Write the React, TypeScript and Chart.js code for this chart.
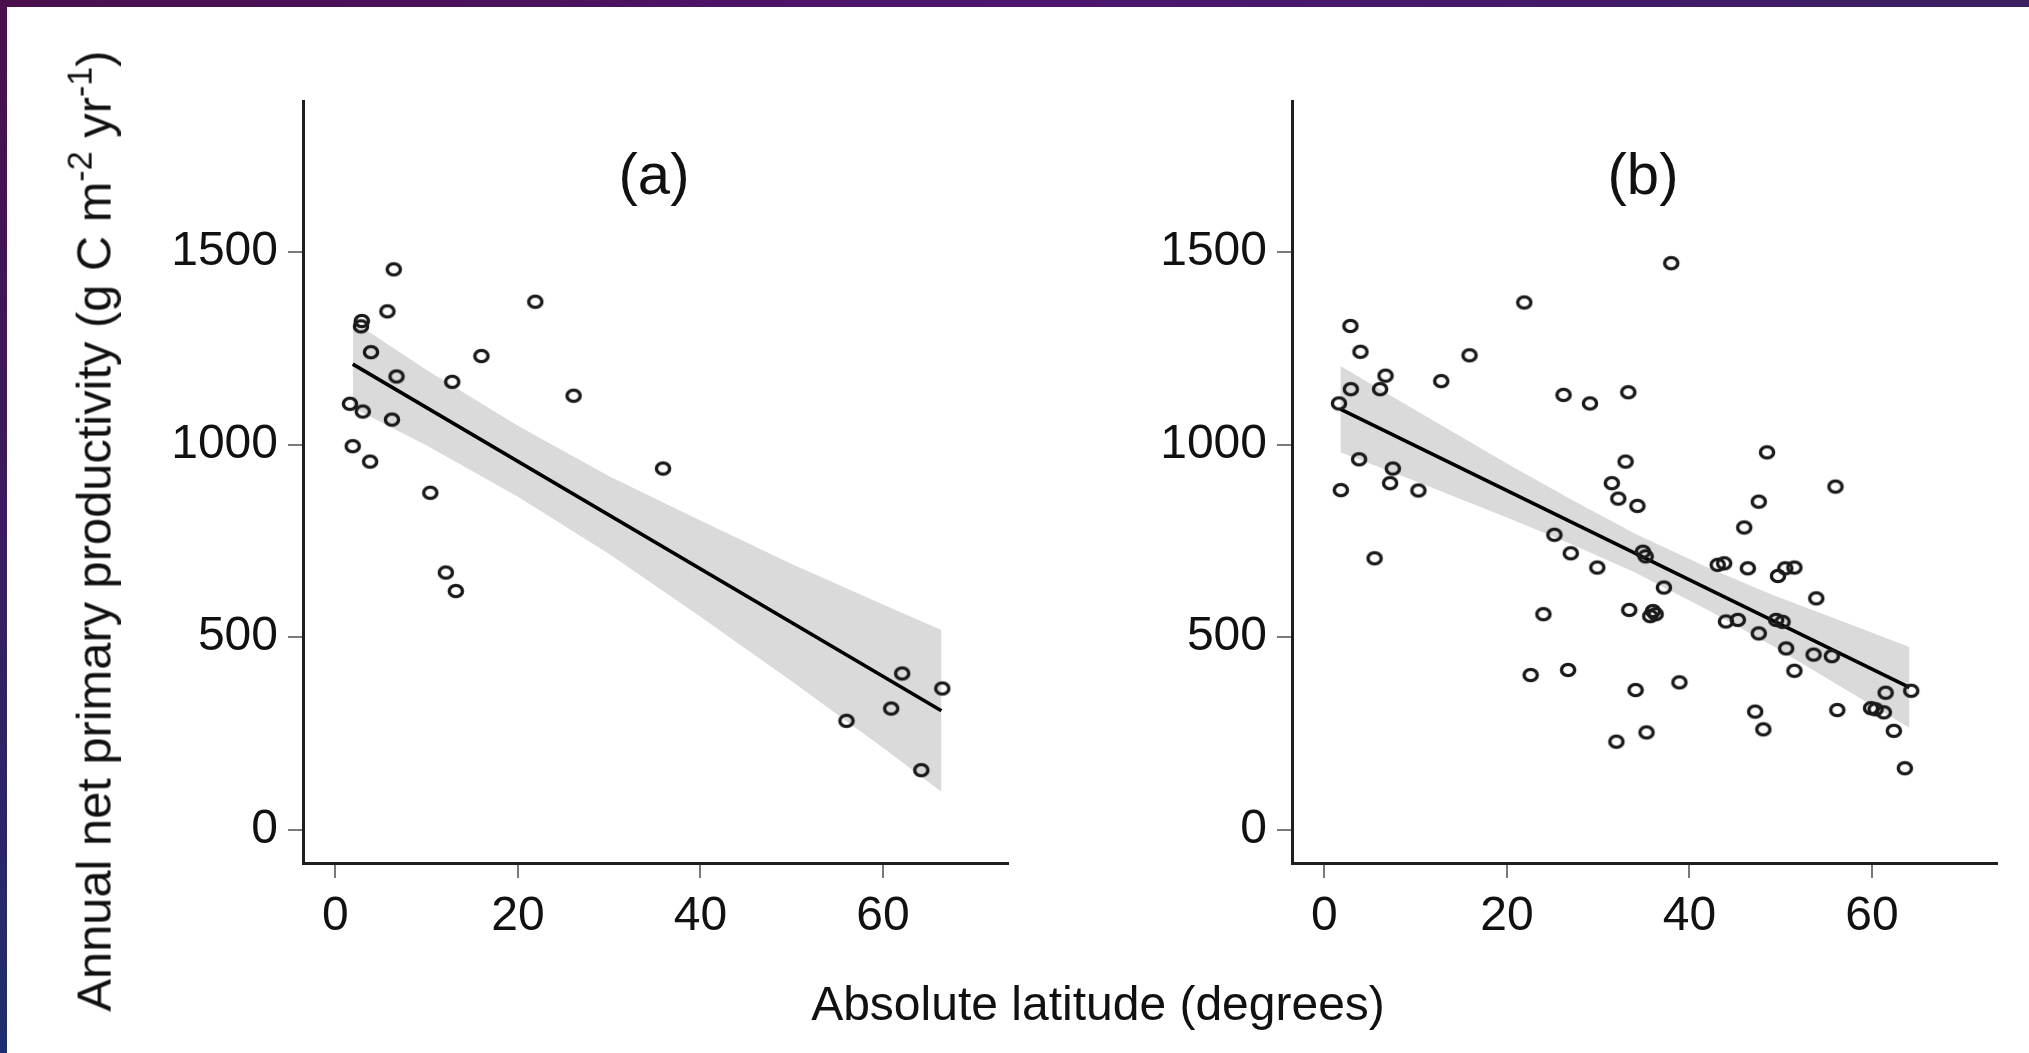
import React, { useEffect, useRef } from 'react';
import { Chart, registerables } from 'chart.js';

Chart.register(...registerables);

// ---------- tick values / labels ----------
const xTickValues = [0, 20, 40, 60];
const xTickLabels = ['0', '20', '40', '60'];
const yTickValues = [0, 500, 1000, 1500];
const yTickLabels = ['0', '500', '1000', '1500'];

// ---------- panel (a) ----------
const latA = [1.6, 1.9, 3.0, 2.9, 2.8, 3.8, 3.9, 5.7, 6.4, 6.7, 6.2, 10.4, 12.1, 12.8, 13.2, 16.0, 21.9, 26.1, 35.9, 56.0, 60.9, 62.1, 64.2, 66.5];
const nppA = [1106, 996, 1086, 1321, 1307, 956, 1240, 1346, 1455, 1177, 1065, 875, 668, 1163, 620, 1230, 1371, 1127, 938, 283, 315, 406, 155, 367];
const fitXA = [1.9, 66.4];
const fitYA = [1209, 309];
const bandXA = [1.9, 10, 20, 30, 40, 50, 60, 66.4];
const bandUpperA = [1320, 1194, 1049, 918, 803, 690, 585, 519];
const bandLowerA = [1096, 998, 865, 716, 553, 386, 213, 99];

// ---------- panel (b) ----------
const latB = [1.6, 1.8, 2.85, 2.9, 3.8, 3.95, 5.5, 6.1, 6.7, 7.2, 7.5, 10.3, 12.8, 15.9, 21.9, 22.6, 24.0, 25.2, 26.2, 26.7, 27.0, 29.1, 29.9, 31.5, 32.0, 32.2, 33.0, 33.3, 33.4, 34.1, 34.3, 34.9, 35.2, 35.3, 35.7, 36.0, 36.3, 37.2, 38.0, 38.9, 43.1, 43.8, 44.0, 45.3, 46.0, 46.4, 47.2, 47.6, 47.6, 48.1, 48.5, 49.5, 50.2, 49.7, 50.5, 51.5, 50.6, 51.5, 53.6, 53.9, 55.6, 56.0, 56.2, 59.9, 60.4, 61.3, 61.5, 62.4, 63.6, 64.3];
const nppB = [1107, 882, 1308, 1144, 962, 1241, 705, 1144, 1179, 900, 938, 881, 1165, 1232, 1369, 402, 560, 766, 1129, 415, 718, 1107, 681, 900, 229, 860, 956, 1136, 571, 363, 841, 722, 710, 253, 555, 568, 560, 629, 1471, 383, 688, 692, 541, 545, 785, 679, 307, 510, 852, 261, 980, 545, 540, 659, 679, 681, 471, 413, 455, 601, 451, 891, 311, 316, 313, 305, 356, 257, 160, 361];
const fitXB = [1.75, 64.1];
const fitYB = [1092, 370];
const bandXB = [1.75, 10, 20, 27, 34, 42, 49, 56, 64.1];
const bandUpperB = [1204, 1089, 951, 858, 769, 681, 611, 548, 475];
const bandLowerB = [980, 905, 811, 742, 669, 571, 479, 380, 265];

const X_MIN = -3.55;
const X_MAX = 73.7;
const Y_MIN = -86;
const Y_MAX = 1892;

const W = 2029;
const H = 1053;
const FONT = "'Liberation Sans', Arial, Helvetica, sans-serif";

const pts = (xs: number[], ys: number[]) => xs.map((x, i) => ({ x, y: ys[i] }));

// open ellipse marker (the scanned circles are slightly wider than tall)
function makeMarker(): HTMLCanvasElement {
  const c = document.createElement('canvas');
  c.width = 22;
  c.height = 20;
  const ctx = c.getContext('2d')!;
  ctx.strokeStyle = '#1a1a1a';
  ctx.lineWidth = 3.4;
  ctx.beginPath();
  ctx.ellipse(11, 10, 6.6, 5.6, 0, 0, Math.PI * 2);
  ctx.stroke();
  return c;
}

function makeChart(
  canvas: HTMLCanvasElement,
  marker: HTMLCanvasElement,
  lat: number[], npp: number[],
  fitX: number[], fitY: number[],
  bandX: number[], bandU: number[], bandL: number[],
  areaLeft: number, areaRight: number
) {
  const yW = 200;
  const tickFont = { family: FONT, size: 48 };
  return new Chart(canvas, {
    type: 'line',
    data: {
      datasets: [
        {
          label: 'sites',
          data: pts(lat, npp),
          showLine: false,
          pointStyle: marker,
          pointRadius: 8,
          order: 0,
        },
        {
          label: 'fit',
          data: pts(fitX, fitY),
          showLine: true,
          borderColor: '#000',
          borderWidth: 3.5,
          pointRadius: 0,
          fill: false,
          order: 1,
        },
        {
          label: 'upper',
          data: pts(bandX, bandU),
          showLine: true,
          borderWidth: 0,
          borderColor: 'rgba(0,0,0,0)',
          pointRadius: 0,
          fill: '+1',
          backgroundColor: '#dadada',
          order: 2,
        },
        {
          label: 'lower',
          data: pts(bandX, bandL),
          showLine: true,
          borderWidth: 0,
          borderColor: 'rgba(0,0,0,0)',
          pointRadius: 0,
          fill: false,
          order: 3,
        },
      ] as any,
    },
    options: {
      responsive: false,
      animation: false,
      events: [],
      layout: { padding: { left: areaLeft - yW, right: W - areaRight, top: 101, bottom: 0 } },
      plugins: { legend: { display: false }, tooltip: { enabled: false }, title: { display: false } },
      scales: {
        x: {
          type: 'linear',
          min: X_MIN,
          max: X_MAX,
          afterBuildTicks: (s: any) => { s.ticks = xTickValues.map((v) => ({ value: v })); },
          afterFit: (s: any) => { s.height = H - 863; },
          ticks: {
            autoSkip: false,
            maxRotation: 0,
            padding: 10,
            color: '#111',
            font: tickFont,
            callback: (_v: any, i: number) => xTickLabels[i],
          },
          grid: { drawOnChartArea: false, drawTicks: true, tickLength: 15, color: '#7a7a7a', tickColor: '#7a7a7a', lineWidth: 2 },
          border: { display: true, color: '#1e1e1e', width: 3 },
        },
        y: {
          type: 'linear',
          min: Y_MIN,
          max: Y_MAX,
          afterBuildTicks: (s: any) => { s.ticks = yTickValues.map((v) => ({ value: v })); },
          afterFit: (s: any) => { s.width = yW; },
          ticks: {
            autoSkip: false,
            padding: 10,
            color: '#111',
            font: tickFont,
            callback: (_v: any, i: number) => yTickLabels[i],
          },
          grid: { drawOnChartArea: false, drawTicks: true, tickLength: 15, color: '#7a7a7a', tickColor: '#7a7a7a', lineWidth: 2 },
          border: { display: true, color: '#1e1e1e', width: 3 },
        },
      },
    } as any,
  });
}

export default function App() {
  const refA = useRef<HTMLCanvasElement>(null);
  const refB = useRef<HTMLCanvasElement>(null);

  useEffect(() => {
    const marker = makeMarker();
    const a = makeChart(refA.current!, marker, latA, nppA, fitXA, fitYA, bandXA, bandUpperA, bandLowerA, 303, 1008);
    const b = makeChart(refB.current!, marker, latB, nppB, fitXB, fitYB, bandXB, bandUpperB, bandLowerB, 1292, 1997);
    return () => { a.destroy(); b.destroy(); };
  }, []);

  const textBase: React.CSSProperties = {
    position: 'absolute',
    fontFamily: FONT,
    color: '#111',
    whiteSpace: 'nowrap',
    lineHeight: 1,
  };
  const sup: React.CSSProperties = { fontSize: '0.7em', verticalAlign: '0.55em', lineHeight: 0 };

  return (
    <div style={{ position: 'fixed', left: 0, top: 0, width: W, height: H, overflow: 'hidden',
      background: 'linear-gradient(180deg, #4a0f4c 0%, #3a1b60 50%, #1d2d6d 100%)' }}>
      <div style={{ position: 'absolute', left: 0, top: 0, width: W, height: 7,
        background: 'linear-gradient(90deg, #4a0f4c 0%, #4d1570 50%, #3b1f62 100%)' }} />
      <div style={{ position: 'absolute', left: 7, top: 7, right: 0, bottom: 0, background: '#fff' }} />
      <canvas ref={refA} width={W} height={H} style={{ position: 'absolute', left: 0, top: 0 }} />
      <canvas ref={refB} width={W} height={H} style={{ position: 'absolute', left: 0, top: 0 }} />
      <div style={{ ...textBase, fontSize: 58, left: 654, top: 174, transform: 'translate(-50%, -50%)' }}>(a)</div>
      <div style={{ ...textBase, fontSize: 58, left: 1643, top: 174, transform: 'translate(-50%, -50%)' }}>(b)</div>
      <div style={{ ...textBase, fontSize: 48, left: 1098, top: 1004, transform: 'translate(-50%, -50%)' }}>
        Absolute latitude (degrees)
      </div>
      <div style={{ ...textBase, fontSize: 48.8, left: 94, top: 531, transform: 'translate(-50%, -50%) rotate(-90deg)' }}>
        Annual net primary productivity (g C m<span style={sup}>-2</span> yr<span style={sup}>-1</span>)
      </div>
    </div>
  );
}
